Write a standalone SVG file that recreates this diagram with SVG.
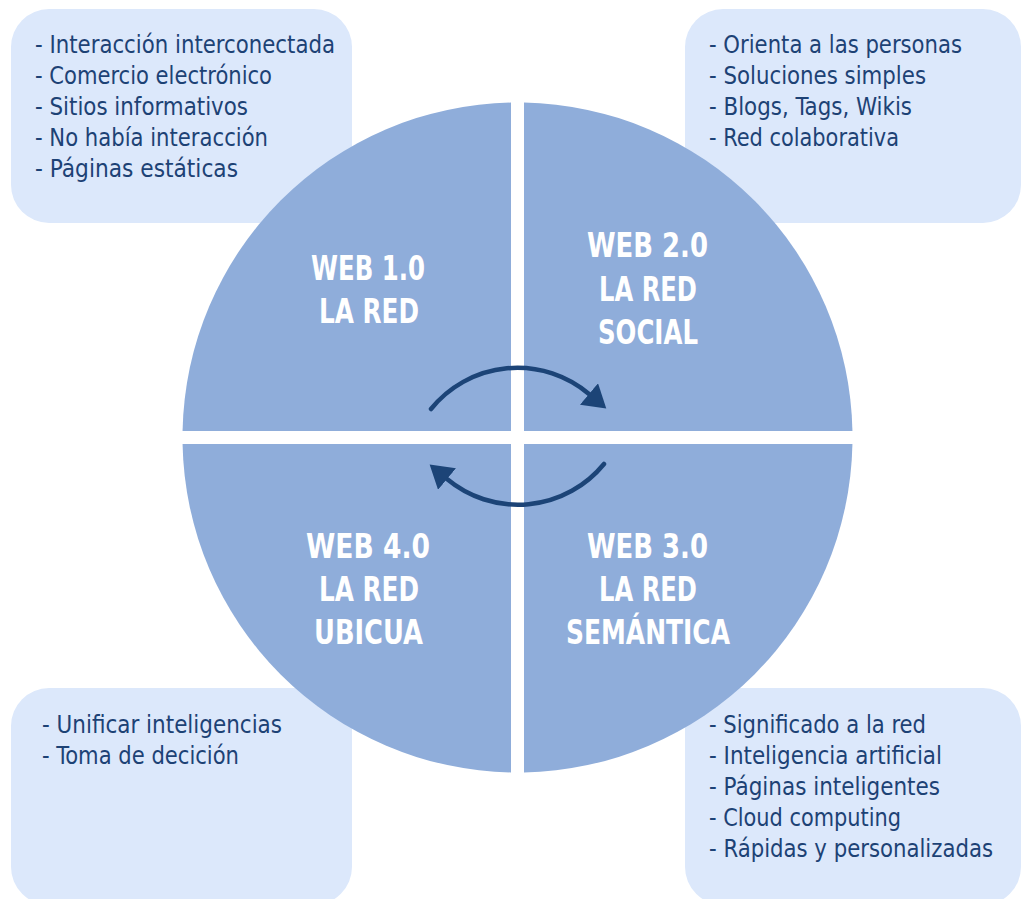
<svg xmlns="http://www.w3.org/2000/svg" width="1021" height="899" viewBox="0 0 1021 899">
<style>
.box{fill:#dce8fb;}
.quad{fill:#8fadda;}
.item{font-family:"Liberation Sans Narrow","DejaVu Sans Condensed","Roboto","Liberation Sans",sans-serif;font-size:25px;fill:#1d4275;}
.title{font-family:"Liberation Sans Narrow","DejaVu Sans Condensed","Roboto","Liberation Sans",sans-serif;font-size:34px;font-weight:bold;fill:#ffffff;text-anchor:middle;}
.arc{fill:none;stroke:#1c4477;stroke-width:4.5;stroke-linecap:round;}
</style>
<defs>
<marker id="head" markerUnits="userSpaceOnUse" markerWidth="24" markerHeight="28" viewBox="0 0 22 26" refX="0" refY="13" orient="auto">
<path d="M0,0 L21,13 L0,26 Z" fill="#1c4477"/>
</marker>
</defs>
<rect width="1021" height="899" fill="#ffffff"/>

<g id="box-web1">
<rect class="box" x="11" y="9" width="341" height="214" rx="38" ry="38"/>
<text class="item" x="35" y="53" textLength="300" lengthAdjust="spacingAndGlyphs">- Interacción interconectada</text>
<text class="item" x="35" y="84" textLength="237" lengthAdjust="spacingAndGlyphs">- Comercio electrónico</text>
<text class="item" x="35" y="115" textLength="213" lengthAdjust="spacingAndGlyphs">- Sitios informativos</text>
<text class="item" x="35" y="146" textLength="233" lengthAdjust="spacingAndGlyphs">- No había interacción</text>
<text class="item" x="35" y="177" textLength="203" lengthAdjust="spacingAndGlyphs">- Páginas estáticas</text>
</g>

<g id="box-web2">
<rect class="box" x="685" y="9" width="336" height="214" rx="38" ry="38"/>
<text class="item" x="709" y="53" textLength="253" lengthAdjust="spacingAndGlyphs">- Orienta a las personas</text>
<text class="item" x="709" y="84" textLength="217" lengthAdjust="spacingAndGlyphs">- Soluciones simples</text>
<text class="item" x="709" y="115" textLength="203" lengthAdjust="spacingAndGlyphs">- Blogs, Tags, Wikis</text>
<text class="item" x="709" y="146" textLength="190" lengthAdjust="spacingAndGlyphs">- Red colaborativa</text>
</g>

<g id="box-web4">
<rect class="box" x="11" y="688" width="341" height="217" rx="38" ry="38"/>
<text class="item" x="42" y="733" textLength="240" lengthAdjust="spacingAndGlyphs">- Unificar inteligencias</text>
<text class="item" x="42" y="764" textLength="197" lengthAdjust="spacingAndGlyphs">- Toma de decición</text>
</g>

<g id="box-web3">
<rect class="box" x="685" y="688" width="336" height="217" rx="38" ry="38"/>
<text class="item" x="709" y="733" textLength="217" lengthAdjust="spacingAndGlyphs">- Significado a la red</text>
<text class="item" x="709" y="764" textLength="233" lengthAdjust="spacingAndGlyphs">- Inteligencia artificial</text>
<text class="item" x="709" y="795" textLength="231" lengthAdjust="spacingAndGlyphs">- Páginas inteligentes</text>
<text class="item" x="709" y="826" textLength="192" lengthAdjust="spacingAndGlyphs">- Cloud computing</text>
<text class="item" x="709" y="857" textLength="284" lengthAdjust="spacingAndGlyphs">- Rápidas y personalizadas</text>
</g>

<g id="web1">
<path class="quad" d="M511,431 L511,102.56 A335,335 0 0 0 182.56,431 Z"/>
<text class="title" x="368" y="280" textLength="114" lengthAdjust="spacingAndGlyphs">WEB 1.0</text>
<text class="title" x="369" y="323" textLength="100" lengthAdjust="spacingAndGlyphs">LA RED</text>
</g>

<g id="web2">
<path class="quad" d="M524,431 L524,102.56 A335,335 0 0 1 852.44,431 Z"/>
<text class="title" x="647.5" y="257" textLength="121" lengthAdjust="spacingAndGlyphs">WEB 2.0</text>
<text class="title" x="648" y="301" textLength="98" lengthAdjust="spacingAndGlyphs">LA RED</text>
<text class="title" x="648" y="344" textLength="100" lengthAdjust="spacingAndGlyphs">SOCIAL</text>
</g>

<g id="web3">
<path class="quad" d="M524,444 L852.44,444 A335,335 0 0 1 524,772.44 Z"/>
<text class="title" x="647.5" y="558" textLength="121" lengthAdjust="spacingAndGlyphs">WEB 3.0</text>
<text class="title" x="648" y="601" textLength="98" lengthAdjust="spacingAndGlyphs">LA RED</text>
<text class="title" x="648" y="644" textLength="164" lengthAdjust="spacingAndGlyphs">SEMÁNTICA</text>
</g>

<g id="web4">
<path class="quad" d="M511,444 L511,772.44 A335,335 0 0 1 182.56,444 Z"/>
<text class="title" x="368" y="558" textLength="124" lengthAdjust="spacingAndGlyphs">WEB 4.0</text>
<text class="title" x="369" y="601" textLength="100" lengthAdjust="spacingAndGlyphs">LA RED</text>
<text class="title" x="368.5" y="644" textLength="109" lengthAdjust="spacingAndGlyphs">UBICUA</text>
</g>

<g id="connectors">
<path class="arc" d="M431,409 A111,111 0 0 1 589,394" marker-end="url(#head)"/>
<path class="arc" d="M604,464 A111,111 0 0 1 447,479" marker-end="url(#head)"/>
</g>
</svg>
